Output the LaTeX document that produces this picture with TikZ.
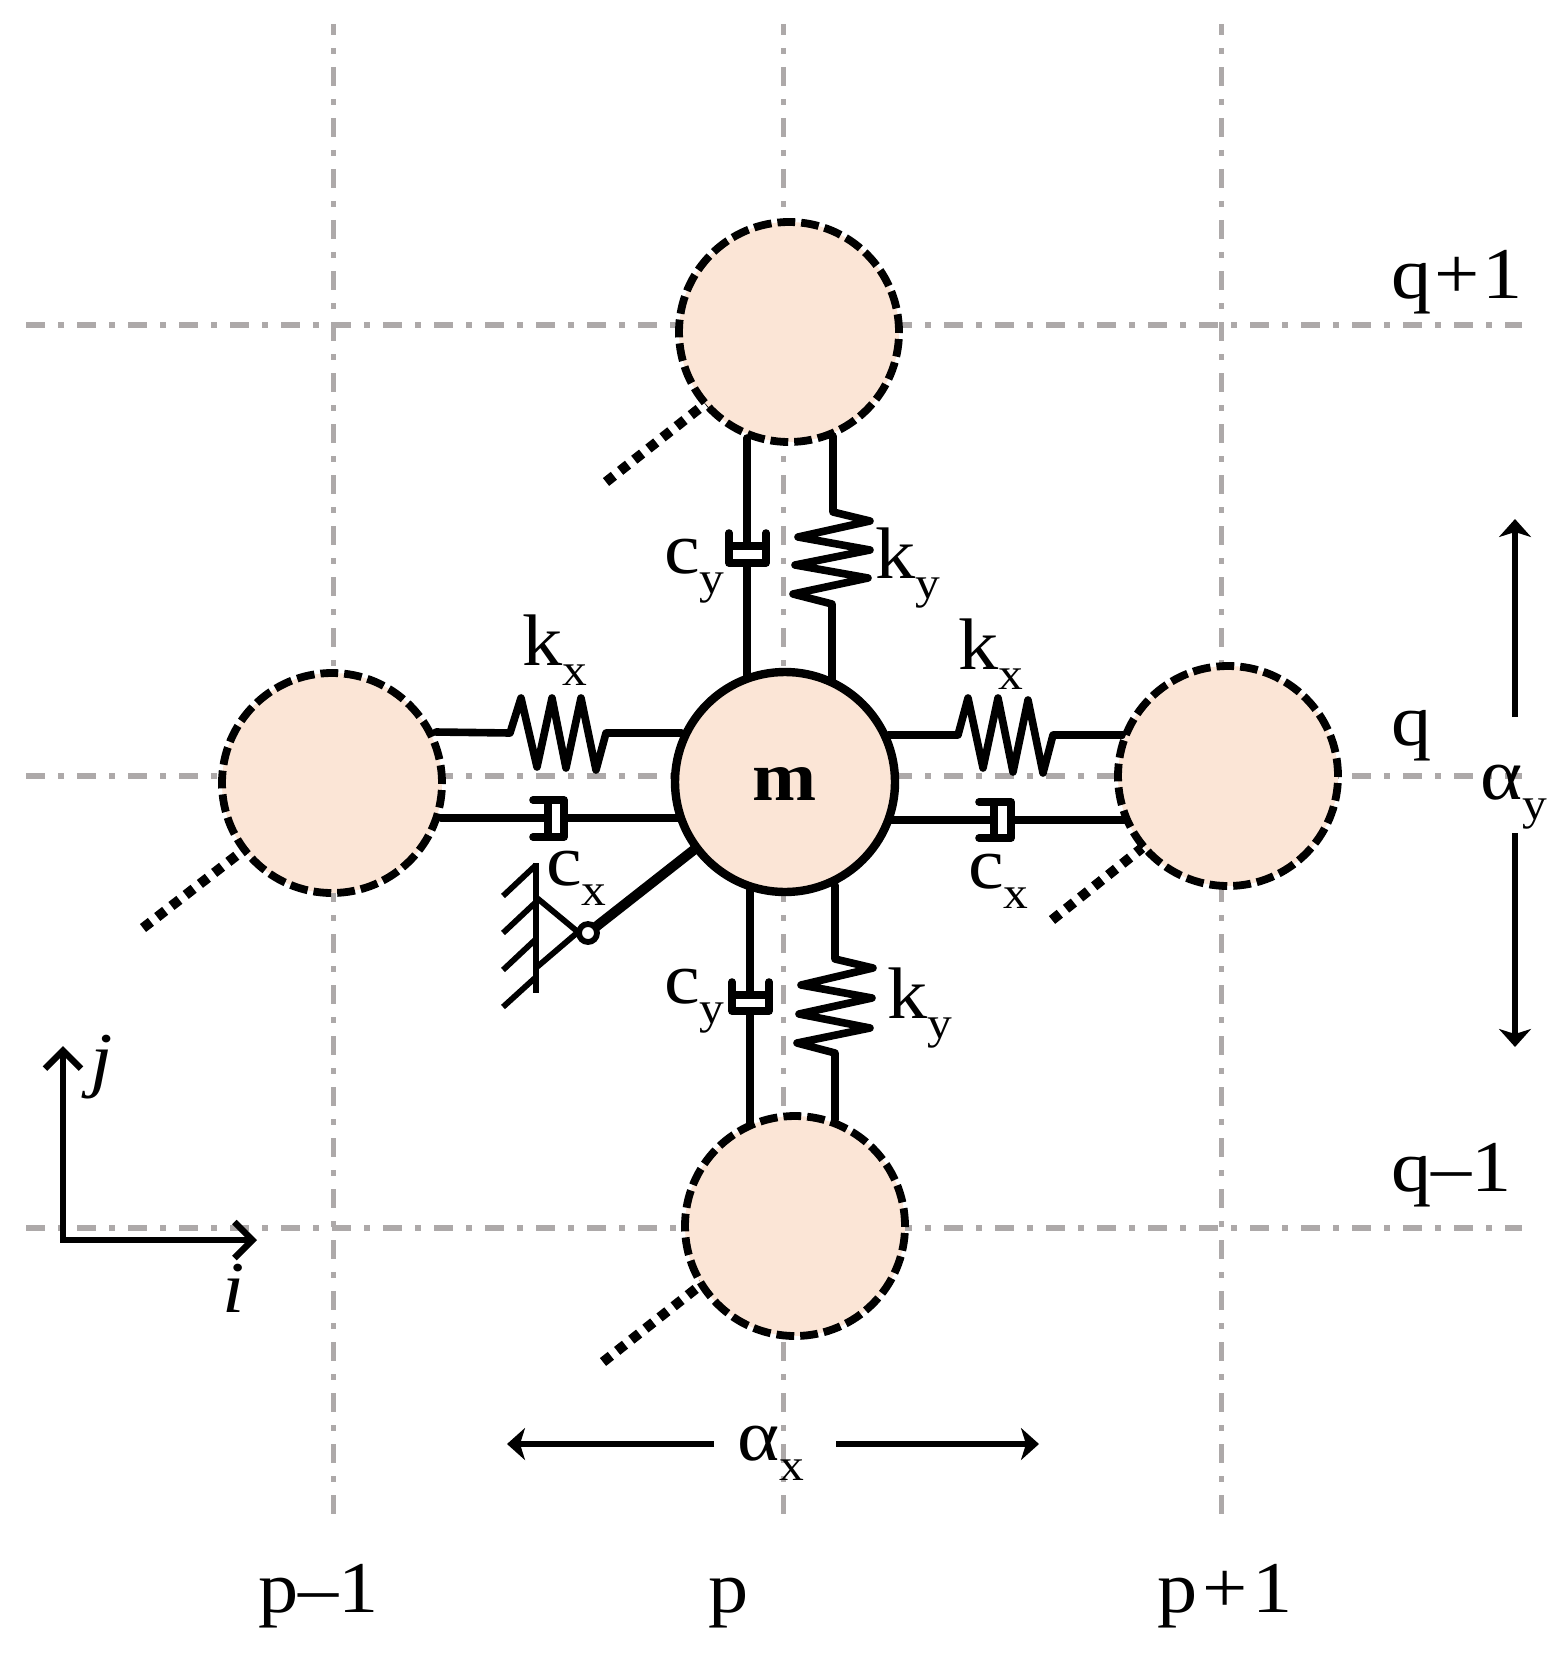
\documentclass[tikz,border=0pt]{standalone}
\usepackage{fontspec}
\setmainfont{Liberation Serif}[FakeStretch=1.1]
\usetikzlibrary{arrows.meta}
\definecolor{gridgrey}{HTML}{ADA9A9}
\definecolor{massfill}{HTML}{FBE5D6}
\newcommand{\bigtxt}{\fontsize{36.5}{36.5}\selectfont}
\newcommand{\subtxt}{\fontsize{22.5}{22.5}\selectfont}
\newcommand{\lbl}[2]{{\bigtxt #1\subtxt\raisebox{-10pt}{#2}}}
\tikzset{
  gridh/.style={draw=gridgrey,line width=2.9pt,dash pattern=on 9.5pt off 6.5pt on 3pt off 6.5pt},
  gridv/.style={draw=gridgrey,line width=2.5pt,dash pattern=on 9.5pt off 6.5pt on 3pt off 6.5pt,dash phase=4pt},
  mass/.style={circle,fill=massfill,draw=black,minimum size=110pt,inner sep=0pt,outer sep=0pt},
  ghost/.style={mass,line width=3.9pt,dash pattern=on 8.9pt off 3pt},
  main/.style={mass,line width=4.2pt},
  link/.style={draw=black,line width=3.8pt,line join=round,line cap=round},
  thin link/.style={draw=black,line width=2.9pt,line join=round},
  dots/.style={draw=black,line width=5pt,dash pattern=on 5pt off 4pt},
  txt/.style={anchor=base west,inner sep=0pt,outer sep=0pt,text=black},
  dimarrow/.style={draw=black,line width=3pt,-{Stealth[length=9pt,width=16pt,inset=2.5pt]}}
}
\begin{document}
\begin{tikzpicture}[x=0.5pt,y=-0.5pt]
\useasboundingbox (0,0) rectangle (1560,1653);
% grid
\coordinate (gl1) at (26,325);  \coordinate (gr1) at (1522,325);
\coordinate (gl2) at (26,776);  \coordinate (gr2) at (1522,776);
\coordinate (gl3) at (26,1228); \coordinate (gr3) at (1522,1228);
\coordinate (gt1) at (333,24);  \coordinate (gb1) at (333,1517);
\coordinate (gt2) at (783,24);  \coordinate (gb2) at (783,1517);
\coordinate (gt3) at (1221,24); \coordinate (gb3) at (1221,1517);
\draw[gridh] (gl1) -- (gr1);
\draw[gridh] (gl2) -- (gr2);
\draw[gridh] (gl3) -- (gr3);
\draw[gridv] (gt1) -- (gb1);
\draw[gridv] (gt2) -- (gb2);
\draw[gridv] (gt3) -- (gb3);
% anchors of the connectors on the masses
\coordinate (tc) at (747,438);  \coordinate (ts) at (833,436);
\coordinate (mtc) at (747,680); \coordinate (mts) at (832,680);
\coordinate (mbc) at (750,885); \coordinate (mbs) at (835,885);
\coordinate (bc) at (750,1124); \coordinate (bs) at (835,1120);
\coordinate (ls) at (436,732);  \coordinate (mls) at (682,733);
\coordinate (lc) at (441,818);  \coordinate (mlc) at (682,818);
\coordinate (mrs) at (888,735); \coordinate (rs) at (1123,735);
\coordinate (mrc) at (888,820); \coordinate (rc) at (1127,820);
% top spring and damper
\draw[link] (ts) -- (833,512) -- (870,521) -- (798,537) -- (870,550) -- (795,565) -- (868,578) -- (793,594) -- (832,604) -- (mts);
\draw[link] (tc) -- (747,546);
\draw[link] (729,533) -- (729,563) -- (766,563) -- (766,533);
\draw[link] (729,546) -- (766,546);
\draw[link] (747,563) -- (mtc);
% bottom spring and damper
\draw[link] (mbs) -- (835,959) -- (873,968) -- (801,985) -- (872,998) -- (799,1014) -- (870,1028) -- (797,1043) -- (835,1053) -- (bs);
\draw[link] (mbc) -- (750,995);
\draw[link] (732,982) -- (732,1011) -- (769,1011) -- (769,982);
\draw[link] (732,995) -- (769,995);
\draw[link] (750,1011) -- (bc);
% left spring and damper
\draw[link] (ls) -- (510,733) -- (521,698) -- (537,767) -- (552,698) -- (566,768) -- (581,698) -- (596,770) -- (606,733) -- (mls);
\draw[link] (lc) -- (548,818);
\draw[link] (533,800) -- (564,800) -- (564,837) -- (533,837);
\draw[link] (548,800) -- (548,837);
\draw[link] (564,818) -- (mlc);
% right spring and damper
\draw[link] (mrs) -- (958,735) -- (968,698) -- (983,768) -- (998,698) -- (1013,772) -- (1028,700) -- (1043,773) -- (1053,735) -- (rs);
\draw[link] (mrc) -- (994,820);
\draw[link] (979,802) -- (1011,802) -- (1011,838) -- (979,838);
\draw[link] (994,802) -- (994,838);
\draw[link] (1011,820) -- (rc);
% ground support
\coordinate (hinge) at (588,933);
\coordinate (g1) at (536,863); \coordinate (g2) at (536,993);
\draw[thin link] (g1) -- (g2);
\draw[thin link] (536,865) -- (503,896);
\draw[thin link] (536,902) -- (503,933);
\draw[thin link] (536,939) -- (503,970);
\draw[thin link] (536,977) -- (503,1007);
\draw[thin link] (537,898) -- (578,932) -- (537,967);
\coordinate (mg) at (695,849);
\draw[draw=black,line width=5pt] (hinge) -- (mg);
\node[circle,draw=black,fill=white,line width=2.9pt,minimum size=9pt,inner sep=0pt] (hingenode) at (hinge) {};
% dotted free ends
\coordinate (d1) at (606,482); \coordinate (d2) at (143,928);
\coordinate (d3) at (1052,920); \coordinate (d4) at (603,1362);
\coordinate (e1) at (710,400); \coordinate (e2) at (254,842);
\coordinate (e3) at (1142,848); \coordinate (e4) at (707,1280);
\draw[dots] (d1) -- (e1);
\draw[dots] (d2) -- (e2);
\draw[dots] (d3) -- (e3);
\draw[dots] (d4) -- (e4);
% masses
\node[ghost] (T) at (789,332) {};
\node[ghost] (L) at (332,783) {};
\node[ghost] (R) at (1228,776) {};
\node[ghost] (B) at (795,1226) {};
\node[main] (M) at (785,782) {};
\node[txt] (mlabel) at (752,800) {\fontsize{35}{35}\selectfont\bfseries m};
% labels of springs and dampers
\node[txt] (kxl) at (522,665) {\lbl{k}{x}};
\node[txt] (cxl) at (546,885) {\lbl{c}{x}};
\node[txt] (kxr) at (958,669) {\lbl{k}{x}};
\node[txt] (cxr) at (968,888) {\lbl{c}{x}};
\node[txt] (cyt) at (664,573) {\lbl{c}{y}};
\node[txt] (kyt) at (875,578) {\lbl{k}{y}};
\node[txt] (cyb) at (664,1003) {\lbl{c}{y}};
\node[txt] (kyb) at (887,1018) {\lbl{k}{y}};
% axes
\coordinate (ax0) at (63,1240);
\coordinate (axj) at (63,1046);
\coordinate (axi) at (257,1240);
\draw[draw=black,line width=3.2pt,{Straight Barb[length=9pt,width=18pt,line width=3.2pt]}-{Straight Barb[length=9pt,width=18pt,line width=3.2pt]},line join=miter] (axj) -- (ax0) -- (axi);
\node[txt] (jlab) at (90,1083) {\bigtxt\itshape j};
\node[txt] (ilab) at (222,1312) {\bigtxt\itshape i};
% dimension arrows
\coordinate (ay1) at (1515,717); \coordinate (ay2) at (1515,519);
\coordinate (ay3) at (1515,833); \coordinate (ay4) at (1515,1047);
\coordinate (ax1) at (714,1444); \coordinate (ax2) at (507,1444);
\coordinate (ax3) at (836,1444); \coordinate (ax4) at (1039,1444);
\draw[dimarrow] (ay1) -- (ay2);
\draw[dimarrow] (ay3) -- (ay4);
\draw[dimarrow] (ax1) -- (ax2);
\draw[dimarrow] (ax3) -- (ax4);
\node[txt] (alphay) at (1480,799) {\lbl{α}{y}};
\node[txt] (alphax) at (737,1460) {\lbl{α}{x}};
% grid indices
\node[txt] (pm) at (258,1612) {\bigtxt p–1};
\node[txt] (p0) at (708,1612) {\bigtxt p};
\node[txt] (pp) at (1157,1612) {\bigtxt p\kern2.5pt+\kern2.5pt1};
\node[txt] (qp) at (1391,299) {\bigtxt q\kern1.5pt+\kern1.5pt1};
\node[txt] (q0) at (1391,745) {\bigtxt q};
\node[txt] (qm) at (1391,1191) {\bigtxt q–1};
\end{tikzpicture}
\end{document}
